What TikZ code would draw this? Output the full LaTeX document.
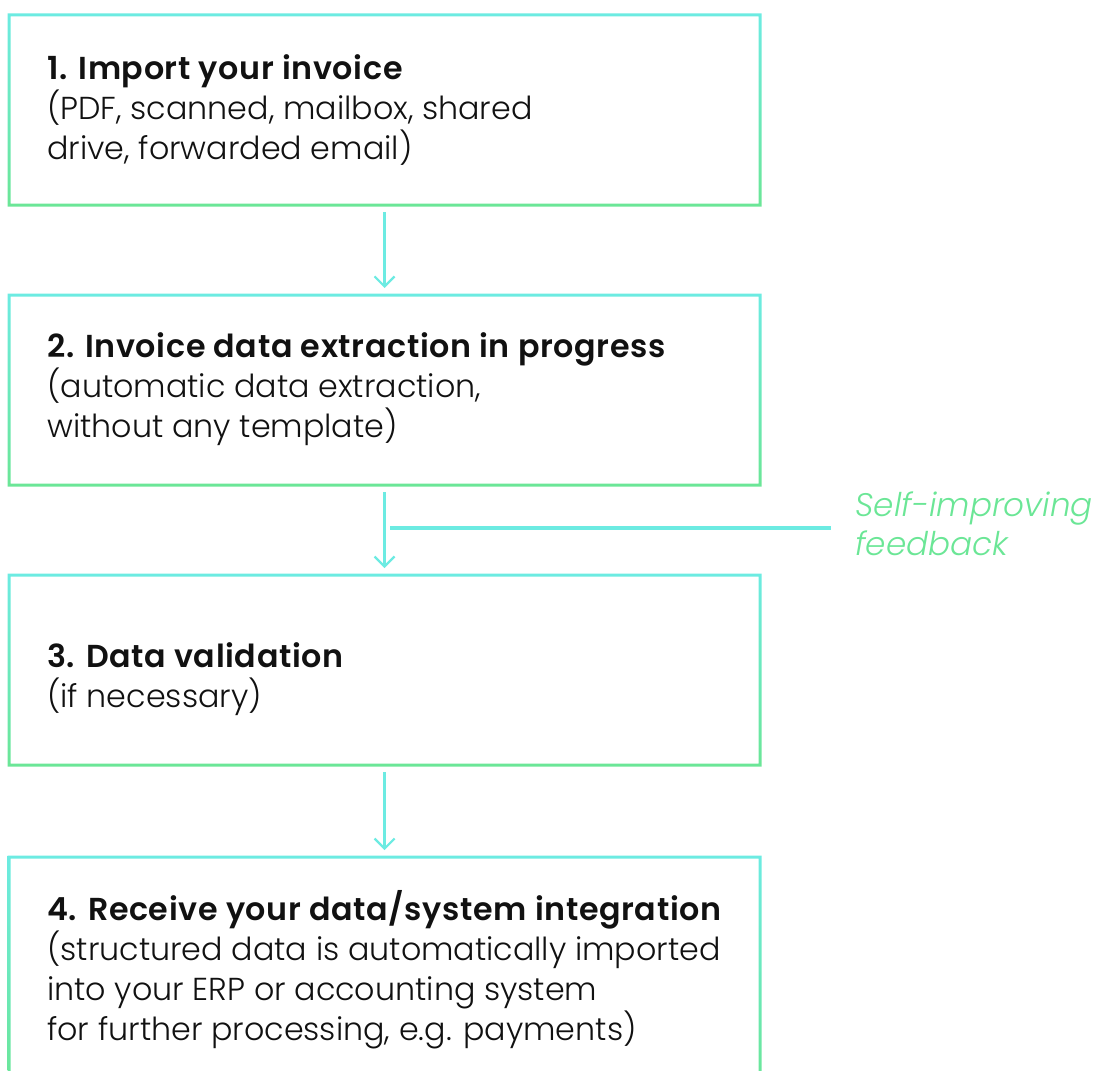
\documentclass[tikz,border=0pt]{standalone}
\usepackage{fontspec}
\IfFontExistsTF{Poppins Light}{%
  \setmainfont{Poppins}[UprightFont=* Light, BoldFont=* SemiBold, BoldFeatures={LetterSpace=2}, ItalicFont=* Light Italic]}{%
  \setmainfont{Poppins}}
\usetikzlibrary{arrows.meta,fit}
\definecolor{cy}{HTML}{6CEBE2}
\definecolor{gr}{HTML}{6BE696}
\definecolor{ink}{HTML}{111111}
\newcommand\gframe[1]{%
  \path[top color=cy,bottom color=gr,even odd rule]
    ([shift={(-1.5,-1.5)}]#1.north west) rectangle ([shift={(1.5,1.5)}]#1.south east)
    ([shift={(1.5,1.5)}]#1.north west) rectangle ([shift={(-1.5,-1.5)}]#1.south east);}
\begin{document}
\begin{tikzpicture}[x=0.75pt,y=-0.75pt,
  box/.style={inner sep=0pt, outer sep=0pt},
  txt/.style={anchor=base west, align=left, inner sep=0pt, text=ink, font=\fontsize{23.8pt}{30pt}\selectfont},
  flow/.style={draw=cy, line width=1.6pt, -{Straight Barb[length=7.5pt,width=15pt]}, shorten <=5.25pt, shorten >=5.25pt},
  fbline/.style={draw=cy, line width=3pt}]
\useasboundingbox (0,0) rectangle (1098,1070);
\clip (0,0) rectangle (1098,1070);
\node[box, fit={(9,15) (760,205)}] (b1) {};
\node[box, fit={(9,295) (760,485)}] (b2) {};
\node[box, fit={(9,575) (760,765)}] (b3) {};
\node[box, fit={(9,857) (760,1087)}] (b4) {};
\gframe{b1}\gframe{b2}\gframe{b3}\gframe{b4}
\node[txt] (t1) at (47,160) {\textbf{1. Import your invoice}\\(PDF, scanned, mailbox, shared\\drive, forwarded email)};
\node[txt] (t2) at (47,437) {\textbf{2. Invoice data extraction in progress}\\(automatic data extraction,\\without any template)};
\node[txt] (t3) at (47,707) {\textbf{3. Data validation}\\(if necessary)};
\node[txt] (t4) at (47,1040) {\textbf{4. Receive your data/system integration}\\(structured data is automatically imported\\into your ERP or accounting system\\for further processing, e.g. payments)};
\draw[flow] (b1.south) -- (b2.north);
\draw[flow] (b2.south) -- (b3.north);
\draw[flow] (b3.south) -- (b4.north);
\node[anchor=base west, align=left, inner sep=0pt, text=gr, font=\itshape\fontsize{24.5pt}{29pt}\selectfont] (fb) at (855,555) {Self-improving\\feedback};
\coordinate (fbj) at (390,528);
\draw[fbline, shorten >=18pt] (fbj) -- (fbj -| fb.west);
\end{tikzpicture}
\end{document}
